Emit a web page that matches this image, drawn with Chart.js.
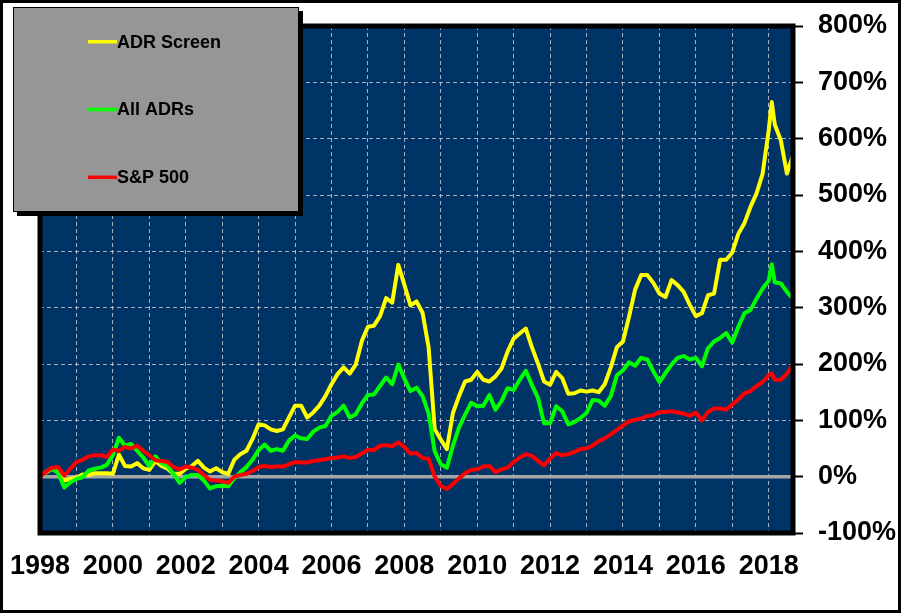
<!DOCTYPE html>
<html>
<head>
<meta charset="UTF-8">
<title>ADR Screen vs All ADRs vs S&amp;P 500</title>
<script src="https://cdn.jsdelivr.net/npm/chart.js"></script>
<style>
  html, body { margin: 0; padding: 0; background: #fff; overflow: hidden; }
  #chart { display: block; }
</style>
</head>
<body>
<canvas id="chart" width="901" height="613"></canvas>
<script>
// sample dates, every two months (Feb 2018 added for the peak)
const months = [
  '1998-01','1998-03','1998-05','1998-07','1998-09','1998-11',
  '1999-01','1999-03','1999-05','1999-07','1999-09','1999-11',
  '2000-01','2000-03','2000-05','2000-07','2000-09','2000-11',
  '2001-01','2001-03','2001-05','2001-07','2001-09','2001-11',
  '2002-01','2002-03','2002-05','2002-07','2002-09','2002-11',
  '2003-01','2003-03','2003-05','2003-07','2003-09','2003-11',
  '2004-01','2004-03','2004-05','2004-07','2004-09','2004-11',
  '2005-01','2005-03','2005-05','2005-07','2005-09','2005-11',
  '2006-01','2006-03','2006-05','2006-07','2006-09','2006-11',
  '2007-01','2007-03','2007-05','2007-07','2007-09','2007-11',
  '2008-01','2008-03','2008-05','2008-07','2008-09','2008-11',
  '2009-01','2009-03','2009-05','2009-07','2009-09','2009-11',
  '2010-01','2010-03','2010-05','2010-07','2010-09','2010-11',
  '2011-01','2011-03','2011-05','2011-07','2011-09','2011-11',
  '2012-01','2012-03','2012-05','2012-07','2012-09','2012-11',
  '2013-01','2013-03','2013-05','2013-07','2013-09','2013-11',
  '2014-01','2014-03','2014-05','2014-07','2014-09','2014-11',
  '2015-01','2015-03','2015-05','2015-07','2015-09','2015-11',
  '2016-01','2016-03','2016-05','2016-07','2016-09','2016-11',
  '2017-01','2017-03','2017-05','2017-07','2017-09','2017-11',
  '2018-01','2018-02','2018-03','2018-05','2018-07','2018-09'
];

// cumulative return, %
const adrScreen = [
  0, 8, 14, 8, -7, -4,
  -2, 4, 3, 6, 6, 6,
  5, 39, 19, 18, 24, 15,
  12, 28, 19, 14, 5, 5,
  14, 19, 28, 16, 9, 15,
  8, 5, 30, 40, 46, 67,
  93, 91, 84, 81, 84, 105,
  126, 126, 105, 114, 126, 143,
  164, 182, 194, 183, 199, 241,
  266, 268, 285, 317, 309, 376,
  341, 304, 311, 291, 229, 84,
  66, 49, 113, 143, 169, 172,
  186, 172, 169, 178, 192, 222,
  245, 254, 263, 230, 201, 169,
  163, 186, 175, 147, 148, 153,
  151, 153, 150, 164, 194, 230,
  240, 284, 332, 358, 358, 344,
  325, 319, 349, 340, 328, 305,
  285, 290, 322, 325, 385, 385,
  398, 431, 450, 479, 503, 538,
  615, 665, 625, 597, 538, 571
];

const allAdrs = [
  0, 9, 15, 6, -19, -10,
  -4, -1, 11, 14, 16, 21,
  38, 69, 55, 58, 46, 34,
  19, 36, 24, 19, 5, -11,
  -1, 3, 3, -7, -21, -17,
  -16, -17, -3, 8, 17, 30,
  47, 57, 46, 49, 46, 64,
  73, 68, 67, 80, 87, 90,
  108, 115, 126, 105, 111, 130,
  145, 146, 161, 176, 164, 199,
  174, 152, 158, 143, 112, 45,
  22, 16, 55, 87, 110, 131,
  125, 126, 145, 119, 134, 157,
  154, 172, 188, 163, 140, 95,
  95, 125, 116, 93, 97, 104,
  113, 136, 135, 126, 143, 180,
  189, 203, 197, 211, 208, 187,
  168, 184, 199, 211, 214, 208,
  211, 196, 228, 240, 246, 255,
  238, 266, 290, 296, 316, 334,
  348, 377, 345, 343, 328, 316
];

const sp500 = [
  0, 9, 16, 17, 2, 14,
  26, 30, 36, 38, 38, 35,
  48, 46, 53, 50, 55, 46,
  38, 29, 28, 26, 17, 13,
  18, 16, 12, 3, -6, -7,
  -8, -11, 0, 3, 5, 10,
  17, 19, 17, 18, 18, 22,
  26, 25, 25, 28, 29, 31,
  33, 34, 36, 33, 35, 41,
  48, 47, 55, 56, 54, 61,
  53, 41, 42, 33, 32, 0,
  -16, -22, -13, -3, 6, 12,
  13, 18, 19, 8, 13, 16,
  26, 34, 40, 37, 28, 20,
  32, 42, 38, 40, 44, 49,
  50, 55, 63, 68, 75, 83,
  91, 98, 101, 103, 108, 109,
  115, 115, 116, 114, 112, 108,
  114, 100, 115, 121, 121, 119,
  128, 137, 148, 152, 161, 168,
  180, 183, 172, 172, 183, 199
];

const FONT = '"Liberation Sans", Arial, sans-serif';

function toYear(s) {
  const [y, m] = s.split('-').map(Number);
  return y + (m - 1) / 12;
}
function points(values) {
  return months.map((m, i) => ({ x: toYear(m), y: values[i] }));
}

const decor = {
  id: 'decor',
  beforeDraw(chart) {
    const { ctx, chartArea: a } = chart;
    ctx.save();
    ctx.fillStyle = '#ffffff';
    ctx.fillRect(0, 0, chart.width, chart.height);
    ctx.fillStyle = '#003366';
    ctx.fillRect(a.left, a.top, a.right - a.left, a.bottom - a.top);
    ctx.restore();
  },
  beforeDatasetsDraw(chart) {
    const { ctx, chartArea: a, scales } = chart;
    const y0 = scales.y.getPixelForValue(0);
    ctx.save();
    ctx.strokeStyle = '#a6a6a6';
    ctx.lineWidth = 3.5;
    ctx.beginPath();
    ctx.moveTo(a.left, y0);
    ctx.lineTo(a.right, y0);
    ctx.stroke();
    ctx.restore();
  },
  afterDatasetsDraw(chart) {
    const { ctx, chartArea: a } = chart;
    ctx.save();
    ctx.strokeStyle = '#000';
    ctx.lineWidth = 5;
    ctx.strokeRect(a.left, a.top, a.right - a.left, a.bottom - a.top);
    ctx.restore();
  },
  afterDraw(chart) {
    const ctx = chart.ctx;
    ctx.save();
    // legend box with shadow
    const bx = 13, by = 7, bw = 286, bh = 205;
    ctx.fillStyle = '#000';
    ctx.fillRect(bx + 4, by + 4, bw, bh);
    ctx.fillStyle = '#969696';
    ctx.fillRect(bx, by, bw, bh);
    ctx.strokeStyle = '#000';
    ctx.lineWidth = 1;
    ctx.strokeRect(bx + 0.5, by + 0.5, bw - 1, bh - 1);
    ctx.font = 'bold 18px ' + FONT;
    ctx.textBaseline = 'middle';
    ctx.textAlign = 'left';
    chart.data.datasets.forEach((ds, i) => {
      const cy = 41.7 + i * 67.8;
      ctx.strokeStyle = ds.borderColor;
      ctx.lineWidth = 3.5;
      ctx.beginPath();
      ctx.moveTo(88, cy);
      ctx.lineTo(117, cy);
      ctx.stroke();
      ctx.fillStyle = '#000';
      ctx.fillText(ds.label, 117, cy + 1);
    });
    // outer frame
    ctx.strokeStyle = '#000';
    ctx.lineWidth = 3;
    ctx.strokeRect(1.5, 1.5, chart.width - 3, chart.height - 3);
    ctx.restore();
  }
};

new Chart(document.getElementById('chart'), {
  type: 'line',
  data: {
    datasets: [
      { label: 'ADR Screen', data: points(adrScreen), borderColor: '#ffff00', order: 3 },
      { label: 'All ADRs', data: points(allAdrs), borderColor: '#00ff00', order: 2 },
      { label: 'S&P 500', data: points(sp500), borderColor: '#ff0000', order: 1 }
    ]
  },
  options: {
    responsive: false,
    animation: false,
    devicePixelRatio: 1,
    layout: { padding: { left: 40, top: 26, right: 0, bottom: 0 } },
    elements: {
      line: { borderWidth: 4, tension: 0, borderJoinStyle: 'round', borderCapStyle: 'round' },
      point: { radius: 0, hoverRadius: 0 }
    },
    plugins: {
      legend: { display: false },
      tooltip: { enabled: false }
    },
    scales: {
      x: {
        type: 'linear',
        min: 1998,
        max: toYear(months[months.length - 1]),
        afterFit(scale) {
          scale.height = 80;
          scale.paddingLeft = 0;
          scale.paddingRight = 0;
        },
        border: { display: false, dash: [4, 3] },
        grid: {
          color: 'rgba(200,200,200,0.85)',
          lineWidth: 1,
          drawTicks: false
        },
        ticks: {
          stepSize: 1,
          autoSkip: false,
          includeBounds: false,
          maxRotation: 0,
          padding: 17,
          color: '#000',
          font: { family: FONT, size: 27, weight: 'bold' },
          callback: v => (Number.isInteger(v) && v % 2 === 0) ? String(v) : ''
        }
      },
      y: {
        position: 'right',
        min: -100,
        max: 800,
        afterFit(scale) {
          scale.width = 108;
          scale.paddingTop = 0;
          scale.paddingBottom = 0;
        },
        border: { display: false, dash: [4, 3] },
        grid: {
          color: ctx => ctx.tick && ctx.tick.value === 0 ? 'rgba(0,0,0,0)' : 'rgba(200,200,200,0.85)',
          lineWidth: 1,
          drawTicks: true,
          tickLength: 10,
          tickColor: '#000',
          tickWidth: 2,
          tickBorderDash: []
        },
        ticks: {
          stepSize: 100,
          padding: 15,
          color: '#000',
          font: { family: FONT, size: 27, weight: 'bold' },
          callback: v => v + '%'
        }
      }
    }
  },
  plugins: [decor]
});
</script>
</body>
</html>
